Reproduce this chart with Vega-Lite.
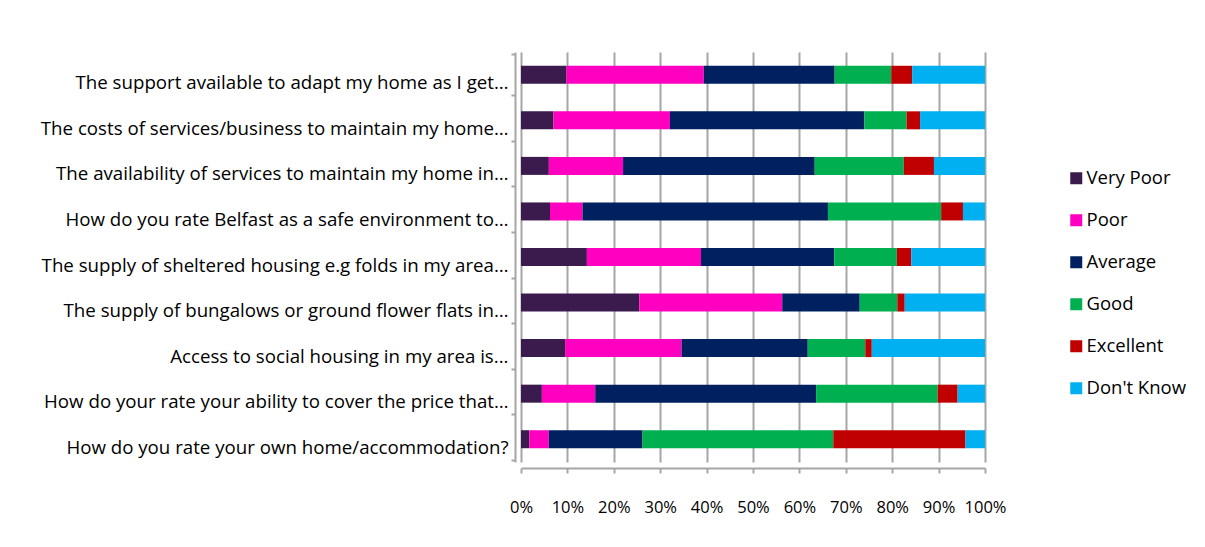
{
  "$schema": "https://vega.github.io/schema/vega-lite/v6.json",
  "width": 464,
  "height": 410,
  "padding": {"left": 8, "top": 43, "right": 0, "bottom": 0},
  "background": "white",
  "config": {
    "font": "Open Sans",
    "view": {"stroke": null}
  },
  "data": {
    "values": [
      {"q": "The support available to adapt my home as I get…", "rating": "Very Poor", "ord": 1, "value": 9.8},
      {"q": "The support available to adapt my home as I get…", "rating": "Poor", "ord": 2, "value": 29.6},
      {"q": "The support available to adapt my home as I get…", "rating": "Average", "ord": 3, "value": 28.2},
      {"q": "The support available to adapt my home as I get…", "rating": "Good", "ord": 4, "value": 12.2},
      {"q": "The support available to adapt my home as I get…", "rating": "Excellent", "ord": 5, "value": 4.5},
      {"q": "The support available to adapt my home as I get…", "rating": "Don't Know", "ord": 6, "value": 15.7},

      {"q": "The costs of services/business to maintain my home…", "rating": "Very Poor", "ord": 1, "value": 7.0},
      {"q": "The costs of services/business to maintain my home…", "rating": "Poor", "ord": 2, "value": 25.1},
      {"q": "The costs of services/business to maintain my home…", "rating": "Average", "ord": 3, "value": 41.9},
      {"q": "The costs of services/business to maintain my home…", "rating": "Good", "ord": 4, "value": 9.1},
      {"q": "The costs of services/business to maintain my home…", "rating": "Excellent", "ord": 5, "value": 2.9},
      {"q": "The costs of services/business to maintain my home…", "rating": "Don't Know", "ord": 6, "value": 14.0},

      {"q": "The availability of services to maintain my home in…", "rating": "Very Poor", "ord": 1, "value": 6.0},
      {"q": "The availability of services to maintain my home in…", "rating": "Poor", "ord": 2, "value": 16.0},
      {"q": "The availability of services to maintain my home in…", "rating": "Average", "ord": 3, "value": 41.3},
      {"q": "The availability of services to maintain my home in…", "rating": "Good", "ord": 4, "value": 19.2},
      {"q": "The availability of services to maintain my home in…", "rating": "Excellent", "ord": 5, "value": 6.5},
      {"q": "The availability of services to maintain my home in…", "rating": "Don't Know", "ord": 6, "value": 11.0},

      {"q": "How do you rate Belfast as a safe environment to…", "rating": "Very Poor", "ord": 1, "value": 6.25},
      {"q": "How do you rate Belfast as a safe environment to…", "rating": "Poor", "ord": 2, "value": 7.0},
      {"q": "How do you rate Belfast as a safe environment to…", "rating": "Average", "ord": 3, "value": 52.9},
      {"q": "How do you rate Belfast as a safe environment to…", "rating": "Good", "ord": 4, "value": 24.4},
      {"q": "How do you rate Belfast as a safe environment to…", "rating": "Excellent", "ord": 5, "value": 4.7},
      {"q": "How do you rate Belfast as a safe environment to…", "rating": "Don't Know", "ord": 6, "value": 4.75},

      {"q": "The supply of sheltered housing e.g folds in my area…", "rating": "Very Poor", "ord": 1, "value": 14.2},
      {"q": "The supply of sheltered housing e.g folds in my area…", "rating": "Poor", "ord": 2, "value": 24.6},
      {"q": "The supply of sheltered housing e.g folds in my area…", "rating": "Average", "ord": 3, "value": 28.7},
      {"q": "The supply of sheltered housing e.g folds in my area…", "rating": "Good", "ord": 4, "value": 13.5},
      {"q": "The supply of sheltered housing e.g folds in my area…", "rating": "Excellent", "ord": 5, "value": 3.1},
      {"q": "The supply of sheltered housing e.g folds in my area…", "rating": "Don't Know", "ord": 6, "value": 15.9},

      {"q": "The supply of bungalows or  ground flower flats in…", "rating": "Very Poor", "ord": 1, "value": 25.5},
      {"q": "The supply of bungalows or  ground flower flats in…", "rating": "Poor", "ord": 2, "value": 30.8},
      {"q": "The supply of bungalows or  ground flower flats in…", "rating": "Average", "ord": 3, "value": 16.7},
      {"q": "The supply of bungalows or  ground flower flats in…", "rating": "Good", "ord": 4, "value": 8.1},
      {"q": "The supply of bungalows or  ground flower flats in…", "rating": "Excellent", "ord": 5, "value": 1.6},
      {"q": "The supply of bungalows or  ground flower flats in…", "rating": "Don't Know", "ord": 6, "value": 17.3},

      {"q": "Access to social housing in my area is...", "rating": "Very Poor", "ord": 1, "value": 9.5},
      {"q": "Access to social housing in my area is...", "rating": "Poor", "ord": 2, "value": 25.1},
      {"q": "Access to social housing in my area is...", "rating": "Average", "ord": 3, "value": 27.2},
      {"q": "Access to social housing in my area is...", "rating": "Good", "ord": 4, "value": 12.4},
      {"q": "Access to social housing in my area is...", "rating": "Excellent", "ord": 5, "value": 1.4},
      {"q": "Access to social housing in my area is...", "rating": "Don't Know", "ord": 6, "value": 24.4},

      {"q": "How do your rate your ability to cover the price that…", "rating": "Very Poor", "ord": 1, "value": 4.5},
      {"q": "How do your rate your ability to cover the price that…", "rating": "Poor", "ord": 2, "value": 11.5},
      {"q": "How do your rate your ability to cover the price that…", "rating": "Average", "ord": 3, "value": 47.6},
      {"q": "How do your rate your ability to cover the price that…", "rating": "Good", "ord": 4, "value": 26.2},
      {"q": "How do your rate your ability to cover the price that…", "rating": "Excellent", "ord": 5, "value": 4.3},
      {"q": "How do your rate your ability to cover the price that…", "rating": "Don't Know", "ord": 6, "value": 5.9},

      {"q": "How do you rate your own home/accommodation?", "rating": "Very Poor", "ord": 1, "value": 1.8},
      {"q": "How do you rate your own home/accommodation?", "rating": "Poor", "ord": 2, "value": 4.2},
      {"q": "How do you rate your own home/accommodation?", "rating": "Average", "ord": 3, "value": 20.2},
      {"q": "How do you rate your own home/accommodation?", "rating": "Good", "ord": 4, "value": 41.1},
      {"q": "How do you rate your own home/accommodation?", "rating": "Excellent", "ord": 5, "value": 28.5},
      {"q": "How do you rate your own home/accommodation?", "rating": "Don't Know", "ord": 6, "value": 4.2}
    ]
  },
  "mark": {"type": "bar", "size": 18},
  "encoding": {
    "y": {
      "field": "q",
      "type": "nominal",
      "sort": null,
      "title": null,
      "axis": {
        "labelFontSize": 18.7,
        "labelColor": "#000000",
        "labelPadding": 3,
        "labelOffset": 8,
        "labelLimit": 600,
        "minExtent": 507,
        "maxExtent": 507,
        "offset": 6,
        "domainColor": "#a6a6a6",
        "domainWidth": 2,
        "tickColor": "#a6a6a6",
        "tickWidth": 2,
        "tickSize": 4,
        "tickBand": "extent",
        "grid": false
      }
    },
    "x": {
      "field": "value",
      "type": "quantitative",
      "stack": "normalize",
      "title": null,
      "scale": {"domain": [0, 1], "nice": false},
      "axis": {
        "format": ".0%",
        "values": [0, 0.1, 0.2, 0.3, 0.4, 0.5, 0.6, 0.7, 0.8, 0.9, 1],
        "labelFontSize": 16.5,
        "labelColor": "#000000",
        "labelPadding": 26,
        "offset": 6,
        "domainColor": "#a6a6a6",
        "domainWidth": 2,
        "tickColor": "#a6a6a6",
        "tickWidth": 2,
        "tickSize": 5,
        "grid": true,
        "gridColor": "#a6a6a6",
        "gridWidth": 2,
        "labelFlush": false
      }
    },
    "color": {
      "field": "rating",
      "type": "nominal",
      "title": null,
      "scale": {
        "domain": ["Very Poor", "Poor", "Average", "Good", "Excellent", "Don't Know"],
        "range": ["#3b1a4e", "#ff00c0", "#002060", "#00b050", "#c00000", "#00b0f0"]
      },
      "legend": {
        "orient": "none",
        "legendX": 546,
        "legendY": 117,
        "padding": 0,
        "symbolType": "square",
        "symbolSize": 144,
        "symbolStrokeWidth": 0,
        "symbolOpacity": 1,
        "labelFontSize": 18.5,
        "labelColor": "#000000",
        "labelOffset": 1,
        "rowPadding": 23
      }
    },
    "order": {"field": "ord", "type": "quantitative"}
  }
}
